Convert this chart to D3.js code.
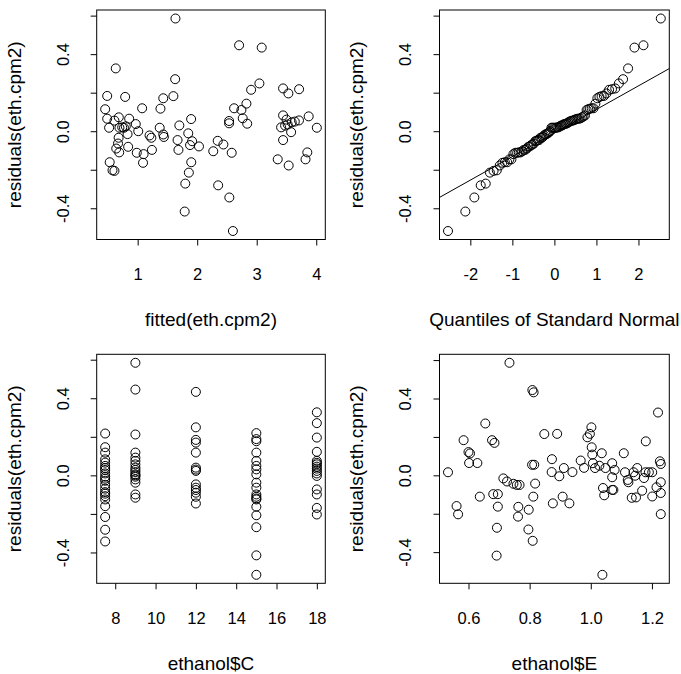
<!DOCTYPE html>
<html>
<head>
<meta charset="utf-8">
<script src="https://cdn.jsdelivr.net/npm/d3@7"></script>
<style>
  html, body { margin: 0; padding: 0; background: #fff; }
  svg text { font-family: "Liberation Sans", Arial, Helvetica, sans-serif; fill: #000; }
</style>
</head>
<body>
<svg id="chart" width="681" height="674"></svg>
<script>
// ---------------- data ----------------
// Panel 1: residuals vs fitted values
const fittedVals = [1.635, 0.632, 1.63, 0.488, 0.79, 1.43, 1.60, 0.454, 1.075, 1.383,
  0.488, 0.683, 0.857, 0.61, 0.52, 0.694, 0.74, 0.77, 0.80, 0.968,
  1.01, 0.83, 1.898, 1.37, 1.43, 1.44, 1.20, 1.23, 1.70, 1.67,
  1.685, 1.85, 1.915, 1.88, 2.03, 1.90, 1.86, 1.80, 1.79, 0.68,
  0.67, 0.64, 0.69, 0.84, 0.985, 1.10, 1.09, 1.24, 0.53, 0.577, 0.61,
  2.704, 3.084, 3.045, 2.906, 3.443, 3.532, 3.712, 2.827, 2.62, 2.743,
  2.765, 2.84, 2.536, 2.536, 3.443, 3.873, 4.01,
  3.41, 3.477, 3.52, 3.588, 3.64, 3.71, 3.578, 3.443,
  2.345, 2.44, 2.27, 2.58, 3.353, 3.537, 3.85, 3.82, 2.352, 2.54, 2.60, 3.50];
const residVals = [0.585, 0.326, 0.270, 0.183, 0.178, 0.171, 0.182, 0.114, 0.119, 0.117,
  0.065, 0.072, 0.065, 0.055, 0.018, 0.018, 0.02, 0.018, 0.025, 0.037,
  0.0, -0.015, 0.063, 0.018, -0.017, -0.03, -0.022, -0.034, 0.03, -0.046,
  -0.097, -0.011, -0.052, -0.072, -0.079, -0.161, -0.215, -0.272, -0.417, -0.034,
  -0.064, -0.09, -0.11, -0.081, -0.112, -0.119, -0.164, -0.097, -0.161, -0.203, -0.206,
  0.446, 0.434, 0.248, 0.215, 0.222, 0.196, 0.218, 0.143, 0.119, 0.110,
  0.067, 0.039, 0.053, 0.041, 0.082, 0.077, 0.018,
  0.02, 0.029, 0.035, 0.046, 0.05, 0.056, -0.005, -0.046,
  -0.05, -0.069, -0.104, -0.112, -0.146, -0.178, -0.11, -0.146, -0.281, -0.344, -0.518, 0.06];

// Panel 3: residuals by compression ratio C
const cLevels = [7.5, 9, 12, 15, 18];
const residC7_5 = [0.217, 0.146, 0.118, 0.083, 0.066, 0.049, 0.038, 0.028, 0.010, -0.007, -0.017,
  -0.028, -0.049, -0.069, -0.087, -0.095, -0.108, -0.125, -0.160, -0.216, -0.282, -0.343];
const residC9 = [0.584, 0.445, 0.212, 0.118, 0.092, 0.075, 0.057, 0.040, 0.028, 0.017, 0.005,
  0.0, -0.007, -0.021, -0.038, -0.099, -0.116];
const residC12 = [0.433, 0.249, 0.184, 0.170, 0.118, 0.040, 0.030, 0.023, -0.047, -0.064, -0.076,
  -0.090, -0.111, -0.146];
const residC15 = [0.219, 0.188, 0.177, 0.118, 0.075, 0.049, 0.031, 0.005, -0.038, -0.064, -0.099,
  -0.111, -0.12, -0.125, -0.163, -0.207, -0.269, -0.415, -0.516];
const residC18 = [0.327, 0.271, 0.196, 0.122, 0.075, 0.065, 0.057, 0.045, 0.035, 0.023, 0.01,
  -0.003, -0.073, -0.099, -0.169, -0.203];

// Panel 4: residuals vs equivalence ratio E
const eVals = [0.533, 0.561, 0.566, 0.584, 0.600, 0.605, 0.602, 0.629, 0.637, 0.655,
  0.677, 0.685, 0.681, 0.696, 0.696, 0.693, 0.692, 0.714, 0.726, 0.734,
  0.747, 0.758, 0.767, 0.763, 0.762, 0.797, 0.796, 0.810, 0.808, 0.815,
  0.809, 0.813, 0.812, 0.818, 0.848, 0.873, 0.872, 0.876, 0.890, 0.897,
  0.912, 0.908, 0.930, 0.940, 0.967, 0.978, 0.989, 0.997, 1.002, 1.003,
  1.005, 1.007, 1.014, 1.028, 1.036, 1.040, 1.044, 1.048, 1.070, 1.070,
  1.070, 1.074, 1.078, 1.108, 1.112, 1.121, 1.123, 1.134, 1.148, 1.140,
  1.145, 1.152, 1.168, 1.174, 1.180, 1.179, 1.190, 1.201, 1.201, 1.215,
  1.220, 1.226, 1.229, 1.229, 1.229, 1.229, 1.038];
const eResid = [0.016, -0.160, -0.203, 0.183, 0.121, 0.114, 0.064, 0.064, -0.111, 0.270,
  0.183, 0.169, -0.098, -0.098, -0.163, -0.273, -0.418, -0.016, -0.032, 0.586,
  -0.044, -0.050, -0.050, -0.164, -0.215, -0.179, -0.282, -0.341, 0.055, 0.055,
  0.444, 0.432, -0.111, -0.043, 0.215, 0.084, 0.017, -0.146, 0.216, -0.005,
  0.038, -0.111, -0.146, 0.017, 0.077, 0.039, 0.198, 0.216, 0.250, 0.146,
  0.108, 0.063, 0.038, 0.050, 0.115, -0.066, -0.104, 0.038, 0.063, -0.010,
  -0.076, -0.076, 0.028, 0.115, 0.016, -0.024, -0.036, -0.117, -0.115, 0.016,
  -0.002, 0.038, -0.080, -0.014, 0.177, 0.016, 0.016, 0.016, -0.110, -0.062,
  0.327, 0.073, 0.059, -0.036, -0.092, -0.202, -0.518];

// Tick values and labels
const residTicks = [-0.4, -0.2, 0.0, 0.2, 0.4, 0.6];
const residTickLabels = ["-0.4", "", "0.0", "", "0.4", ""];
const fittedTicks = [1, 2, 3, 4];
const qqTicks = [-2, -1, 0, 1, 2];
const cTicks = [8, 10, 12, 14, 16, 18];
const eTicks = [0.6, 0.8, 1.0, 1.2];
const eTickLabels = ["0.6", "0.8", "1.0", "1.2"];

const yTitle = "residuals(eth.cpm2)";
const xTitles = ["fitted(eth.cpm2)", "Quantiles of Standard Normal", "ethanol$C", "ethanol$E"];

// ---------------- helpers ----------------
function qnorm(p) {
  const a = [-3.969683028665376e+01, 2.209460984245205e+02, -2.759285104469687e+02, 1.383577518672690e+02, -3.066479806614716e+01, 2.506628277459239e+00];
  const b = [-5.447609879822406e+01, 1.615858368580409e+02, -1.556989798598866e+02, 6.680131188771972e+01, -1.328068155288572e+01];
  const c = [-7.784894002430293e-03, -3.223964580411365e-01, -2.400758277161838e+00, -2.549732539343734e+00, 4.374664141464968e+00, 2.938163982698783e+00];
  const d = [7.784695709041462e-03, 3.224671290700398e-01, 2.445134137142996e+00, 3.754408661907416e+00];
  const pl = 0.02425, ph = 1 - pl;
  let q, r;
  if (p < pl) {
    q = Math.sqrt(-2 * Math.log(p));
    return (((((c[0]*q+c[1])*q+c[2])*q+c[3])*q+c[4])*q+c[5]) / ((((d[0]*q+d[1])*q+d[2])*q+d[3])*q+1);
  }
  if (p <= ph) {
    q = p - 0.5; r = q * q;
    return (((((a[0]*r+a[1])*r+a[2])*r+a[3])*r+a[4])*r+a[5])*q / (((((b[0]*r+b[1])*r+b[2])*r+b[3])*r+b[4])*r+1);
  }
  q = Math.sqrt(-2 * Math.log(1 - p));
  return -(((((c[0]*q+c[1])*q+c[2])*q+c[3])*q+c[4])*q+c[5]) / ((((d[0]*q+d[1])*q+d[2])*q+d[3])*q+1);
}
function ppoints(n) {
  const a = n <= 10 ? 3 / 8 : 0.5;
  return d3.range(1, n + 1).map(i => (i - a) / (n + 1 - 2 * a));
}
function rExtent(vals) {
  const [lo, hi] = d3.extent(vals);
  const pad = 0.04 * (hi - lo);
  return [lo - pad, hi + pad];
}

// ---------------- layout ----------------
const svg = d3.select("#chart");
svg.append("rect").attr("width", 681).attr("height", 674).attr("fill", "#fff");

const boxes = [
  { l: 96.7, r: 325.3, t: 10, b: 239.5 },
  { l: 439.5, r: 669.3, t: 10, b: 239.5 },
  { l: 96.7, r: 325.3, t: 354.3, b: 583.3 },
  { l: 439.5, r: 669.3, t: 354.3, b: 583.3 }
];
const TICK_FS = 16.5, TITLE_FS = 19, PT_R = 4.5;

function drawPanel(idx, pts, xTicks, xLabels, extraFn) {
  const box = boxes[idx];
  const g = svg.append("g");
  const x = d3.scaleLinear().domain(rExtent(pts.map(p => p[0]))).range([box.l, box.r]);
  const y = d3.scaleLinear().domain(rExtent(pts.map(p => p[1]))).range([box.b, box.t]);

  // x axis
  const xa = g.append("g").attr("transform", `translate(0,${box.b})`)
    .call(d3.axisBottom(x).tickValues(xTicks).tickSize(6).tickSizeOuter(0)
      .tickFormat((d, i) => xLabels ? xLabels[i] : String(d)));
  xa.select(".domain").remove();
  xa.selectAll("line").attr("stroke", "#000").attr("stroke-width", 1);
  xa.selectAll("text").attr("y", 40.5).attr("dy", 0)
    .style("font-size", TICK_FS + "px").attr("fill", "#000");

  // y axis
  const ya = g.append("g").attr("transform", `translate(${box.l},0)`)
    .call(d3.axisLeft(y).tickValues(residTicks).tickSize(6).tickSizeOuter(0)
      .tickFormat((d, i) => residTickLabels[i]));
  ya.select(".domain").remove();
  ya.selectAll("line").attr("stroke", "#000").attr("stroke-width", 1);
  ya.selectAll("text").attr("x", 0).attr("dy", 0).attr("text-anchor", "middle")
    .attr("transform", "translate(-28.2,0) rotate(-90)")
    .style("font-size", TICK_FS + "px").attr("fill", "#000");

  // box
  g.append("rect").attr("x", box.l).attr("y", box.t)
    .attr("width", box.r - box.l).attr("height", box.b - box.t)
    .attr("fill", "none").attr("stroke", "#000").attr("stroke-width", 1);

  // titles
  g.append("text").attr("x", (box.l + box.r) / 2).attr("y", box.b + 86.5)
    .attr("text-anchor", "middle").style("font-size", TITLE_FS + "px").text(xTitles[idx]);
  g.append("text")
    .attr("transform", `translate(${box.l - 76.2},${(box.t + box.b) / 2}) rotate(-90)`)
    .attr("text-anchor", "middle").style("font-size", TITLE_FS + "px").text(yTitle);

  if (extraFn) extraFn(g, x, y, box);

  // points
  g.append("g").selectAll("circle").data(pts).join("circle")
    .attr("cx", d => x(d[0])).attr("cy", d => y(d[1])).attr("r", PT_R)
    .attr("fill", "none").attr("stroke", "#000").attr("stroke-width", 1);
}

// Panel 1
drawPanel(0, fittedVals.map((f, i) => [f, residVals[i]]), fittedTicks, null);

// Panel 2: normal QQ plot + qqline
const sortedResid = residVals.slice().sort(d3.ascending);
const theo = ppoints(sortedResid.length).map(qnorm);
drawPanel(1, sortedResid.map((r, i) => [theo[i], r]), qqTicks, null, (g, x, y, box) => {
  const q1 = d3.quantile(sortedResid, 0.25), q3 = d3.quantile(sortedResid, 0.75);
  const z1 = qnorm(0.25), z3 = qnorm(0.75);
  const slope = (q3 - q1) / (z3 - z1);
  const icpt = q1 - slope * z1;
  const [xa, xb] = x.domain();
  svg.append("clipPath").attr("id", "qqclip").append("rect")
    .attr("x", box.l).attr("y", box.t).attr("width", box.r - box.l).attr("height", box.b - box.t);
  g.append("line").attr("clip-path", "url(#qqclip)")
    .attr("x1", x(xa)).attr("y1", y(icpt + slope * xa))
    .attr("x2", x(xb)).attr("y2", y(icpt + slope * xb))
    .attr("stroke", "#000").attr("stroke-width", 1);
});

// Panel 3
const cGroups = [residC7_5, residC9, residC12, residC15, residC18];
const cPts = [];
cGroups.forEach((arr, k) => arr.forEach(r => cPts.push([cLevels[k], r])));
drawPanel(2, cPts, cTicks, null);

// Panel 4
drawPanel(3, eVals.map((e, i) => [e, eResid[i]]), eTicks, eTickLabels);
</script>
</body>
</html>
